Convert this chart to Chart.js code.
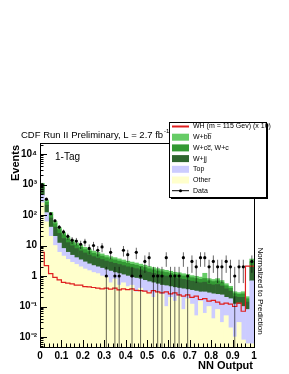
<!DOCTYPE html>
<html lang="en">
<head>
<meta charset="UTF-8">
<title>NN Output 1-Tag</title>
<script src="https://cdn.jsdelivr.net/npm/chart.js"></script>
<style>
    body { margin: 0; background: #fff; }
    #wrap { width: 289px; height: 374px; }
</style>
</head>
<body>
<div id="wrap"><canvas id="nnChart" width="289" height="374"></canvas></div>
<script>
    // bin low edges, NN output (bin width 0.02)
    const binLo = [0.00,0.02,0.04,0.06,0.08,0.10,0.12,0.14,0.16,0.18,
                   0.20,0.22,0.24,0.26,0.28,0.30,0.32,0.34,0.36,0.38,
                   0.40,0.42,0.44,0.46,0.48,0.50,0.52,0.54,0.56,0.58,
                   0.60,0.62,0.64,0.66,0.68,0.70,0.72,0.74,0.76,0.78,
                   0.80,0.82,0.84,0.86,0.88,0.90,0.92,0.94,0.96,0.98];
    const binWidth = 0.02;

    // stacked backgrounds, bottom to top
    const other = [250,60,20,10,6,4.5,3.5,2.8,2.4,2.0,
                   1.7,1.5,1.3,1.2,1.0,0.9,0.6,0.8,0.5,0.6,
                   0.45,0.5,0.3,0.4,0.3,0.3,0.2,0.3,0.25,0.1,
                   0.2,0.15,0.22,0.08,0.18,0.12,0.05,0.15,0.06,0.1,
                   0.04,0.08,0.03,0.05,0.02,0.01,0.03,0.008,0.006,0.006];
    const topQ = [200,60,20,10,6,3.5,2.5,2.0,1.6,1.4,
                  1.2,1.0,0.9,0.8,0.8,0.7,0.85,0.5,0.7,0.5,
                  0.55,0.4,0.55,0.4,0.42,0.35,0.4,0.25,0.25,0.38,
                  0.25,0.27,0.18,0.3,0.18,0.22,0.27,0.15,0.24,0.18,
                  0.22,0.17,0.21,0.15,0.16,0.11,0.09,0.092,0.074,0.69];
    const wjj = [320,90,40,20,13,9,6.5,5.0,4.0,3.3,
                 2.8,2.4,2.1,1.9,1.7,1.5,1.4,1.3,1.2,1.1,
                 1.0,0.95,0.9,0.8,0.75,0.68,0.62,0.58,0.55,0.52,
                 0.48,0.45,0.43,0.4,0.37,0.34,0.32,0.3,0.33,0.26,
                 0.25,0.28,0.23,0.18,0.14,0.09,0.08,0.1,0.06,1.3];
    const wcc = [200,55,24,12,8,5.5,4,3.1,2.4,2.0,
                 1.7,1.5,1.3,1.15,1.0,0.9,0.8,0.8,0.7,0.65,
                 0.6,0.57,0.52,0.48,0.44,0.4,0.38,0.34,0.33,0.31,
                 0.28,0.26,0.26,0.23,0.22,0.2,0.19,0.18,0.2,0.16,
                 0.15,0.16,0.14,0.1,0.08,0.055,0.05,0.06,0.04,0.9];
    const wbb = [130,40,18,9,5.5,4.0,2.8,2.2,1.8,1.5,
                 1.3,1.2,1.0,0.9,0.8,0.7,0.65,0.6,0.55,0.5,
                 0.46,0.44,0.4,0.37,0.34,0.32,0.29,0.27,0.25,0.23,
                 0.22,0.2,0.19,0.18,0.17,0.15,0.15,0.14,0.4,0.12,
                 0.11,0.13,0.1,0.08,0.06,0.04,0.035,0.045,0.03,0.7];

    // WH signal x 10
    const wh10 = [6.5,6.0,2.2,1.2,0.9,0.75,0.62,0.58,0.55,0.5,
                  0.5,0.45,0.44,0.42,0.4,0.38,0.4,0.37,0.4,0.35,
                  0.38,0.36,0.38,0.34,0.33,0.32,0.28,0.33,0.3,0.28,
                  0.3,0.26,0.28,0.24,0.22,0.24,0.2,0.22,0.17,0.18,
                  0.15,0.16,0.14,0.12,0.13,0.12,0.1,0.13,0.07,2.1];

    // observed events
    const dataVals = [1000,330,110,65,40,28,20,15,14,11,
                      13,8,10,7,9,1,6,1,1,7,
                      5,1,6,1,3,4,1,1,1,4,
                      1,1,1,4,1,3,2,4,4,2,
                      3,2,2,3,2,1,2,2,0,3];

    const yTickValues = [1e-2, 1e-1, 1, 10, 100, 1000, 10000];
    const yTickLabels = ['10\u207B\u00B2', '10\u207B\u00B9', '1', '10', '10\u00B2', '10\u00B3', '10\u2074'];
    const xTickLabels = ['0', '0.1', '0.2', '0.3', '0.4', '0.5', '0.6', '0.7', '0.8', '0.9', '1'];

    const Y_MIN = 0.0047, Y_MAX = 23000;

    const binCenters = binLo.map(lo => +(lo + binWidth / 2).toFixed(3));
    const asBars = vals => vals.map((v, i) => ({x: binCenters[i], y: v}));

    // step line: one point per low edge, closed at x = 1
    const whLine = binLo.map((lo, i) => ({x: lo, y: wh10[i]}));
    whLine.push({x: 1, y: wh10[wh10.length - 1]});

    // data markers and poisson error bars (null splits the bars)
    const dataPts = [], errSegs = [];
    dataVals.forEach((n, i) => {
        if (n <= 0) return;
        const e = Math.sqrt(n);
        dataPts.push({x: binCenters[i], y: n});
        errSegs.push({x: binCenters[i], y: Math.max(n - e, Y_MIN)},
                     {x: binCenters[i], y: n + e},
                     {x: binCenters[i], y: null});
    });

    const FONT = 'Liberation Sans, Arial, sans-serif';

    const rootStyle = {
        id: 'rootStyle',
        afterDatasetsDraw(chart) {
            const {ctx, chartArea: a, scales: {x, y}} = chart;
            ctx.save();
            ctx.strokeStyle = '#000';
            ctx.lineWidth = 1;
            ctx.beginPath();
            for (let d = -3; d <= 4; d++) {
                for (let m = 1; m <= 9; m++) {
                    const v = m * Math.pow(10, d);
                    if (v < Y_MIN || v > Y_MAX) continue;
                    const py = Math.round(y.getPixelForValue(v)) + 0.5;
                    ctx.moveTo(a.left, py);
                    ctx.lineTo(a.left + (m === 1 ? 7 : 3.5), py);
                }
            }
            for (let k = 0; k <= 50; k++) {
                const px = Math.round(x.getPixelForValue(k * 0.02)) + 0.5;
                ctx.moveTo(px, a.bottom);
                ctx.lineTo(px, a.bottom - (k % 5 === 0 ? 7 : 3.5));
            }
            ctx.stroke();
            ctx.strokeRect(Math.round(a.left) + 0.5, Math.round(a.top) + 0.5,
                           Math.round(a.right - a.left), Math.round(a.bottom - a.top));
            ctx.restore();
        },
        afterDraw(chart) {
            const {ctx, chartArea: a} = chart;
            const ds = chart.data.datasets;
            ctx.save();
            ctx.fillStyle = '#000';

            // title with superscript
            ctx.textBaseline = 'alphabetic';
            ctx.font = '9.5px ' + FONT;
            const t = 'CDF Run II Preliminary, L = 2.7 fb';
            ctx.fillText(t, 21, 138);
            const tw = ctx.measureText(t).width;
            ctx.font = '6px ' + FONT;
            ctx.fillText('-1', 21 + tw + 1, 133);

            ctx.font = '10px ' + FONT;
            ctx.fillText('1-Tag', 55, 160);

            ctx.font = 'bold 11px ' + FONT;
            ctx.textAlign = 'right';
            ctx.fillText('NN Output', a.right - 1, 369);

            ctx.save();
            ctx.translate(19, a.top + 2);
            ctx.rotate(-Math.PI / 2);
            ctx.fillText('Events', 0, 0);
            ctx.restore();

            ctx.save();
            ctx.font = '8px ' + FONT;
            ctx.textAlign = 'center';
            ctx.textBaseline = 'middle';
            ctx.translate(260, 291);
            ctx.rotate(Math.PI / 2);
            ctx.fillText('Normalized to Prediction', 0, 0);
            ctx.restore();

            // legend box with shadow
            const bx = 169, by = 122, bw = 97, bh = 75;
            ctx.fillStyle = '#000';
            ctx.fillRect(bx + 2, by + 2, bw, bh);
            ctx.fillStyle = '#fff';
            ctx.fillRect(bx, by, bw, bh);
            ctx.strokeStyle = '#000';
            ctx.lineWidth = 1;
            ctx.strokeRect(bx + 0.5, by + 0.5, bw, bh);

            const entries = [
                {ds: ds[2], text: 'WH (m = 115 Gev) (x 10)', kind: 'line'},
                {ds: ds[7], text: 'W+b\u0062\u0305', kind: 'box'},
                {ds: ds[6], text: 'W+cc\u0305, W+c', kind: 'box'},
                {ds: ds[5], text: 'W+jj', kind: 'box'},
                {ds: ds[4], text: 'Top', kind: 'box'},
                {ds: ds[3], text: 'Other', kind: 'box'},
                {ds: ds[0], text: 'Data', kind: 'data'}
            ];
            ctx.textAlign = 'left';
            ctx.textBaseline = 'middle';
            ctx.font = '7px ' + FONT;
            entries.forEach((en, i) => {
                const ry = by + 4.5 + i * 10.7;
                if (en.kind === 'box') {
                    ctx.fillStyle = en.ds.backgroundColor;
                    ctx.fillRect(172, ry - 3.5, 17, 7);
                } else if (en.kind === 'line') {
                    ctx.strokeStyle = en.ds.borderColor;
                    ctx.lineWidth = 2;
                    ctx.beginPath();
                    ctx.moveTo(172, ry);
                    ctx.lineTo(189, ry);
                    ctx.stroke();
                } else {
                    ctx.strokeStyle = '#000';
                    ctx.lineWidth = 1;
                    ctx.beginPath();
                    ctx.moveTo(172, ry);
                    ctx.lineTo(189, ry);
                    ctx.stroke();
                    ctx.fillStyle = '#000';
                    ctx.beginPath();
                    ctx.arc(180.5, ry, 1.5, 0, Math.PI * 2);
                    ctx.fill();
                }
                ctx.fillStyle = '#000';
                ctx.fillText(en.text, 193, ry);
            });
            ctx.restore();
        }
    };

    const bar = (label, vals, color) => ({
        type: 'bar', label, data: asBars(vals), backgroundColor: color,
        borderWidth: 0, stack: 'bg', barPercentage: 1, categoryPercentage: 1
    });

    new Chart(document.getElementById('nnChart'), {
        type: 'bar',
        data: {
            datasets: [
                {type: 'line', label: 'Data', data: dataPts, showLine: false,
                 pointRadius: 1.6, pointBackgroundColor: '#000', pointBorderWidth: 0},
                {type: 'line', label: 'err', data: errSegs, borderColor: 'rgba(0,0,0,0.6)',
                 borderWidth: 1, pointRadius: 0, spanGaps: false},
                {type: 'line', label: 'WH', data: whLine, stepped: 'after', borderColor: '#e01e1e',
                 borderWidth: 1.2, pointRadius: 0, fill: false},
                bar('Other', other, '#ffffcc'),
                bar('Top', topQ, '#ccccff'),
                bar('W+jj', wjj, '#2f662f'),
                bar('W+cc', wcc, '#339933'),
                bar('W+bb', wbb, '#66cc66')
            ]
        },
        options: {
            responsive: false,
            animation: false,
            layout: {padding: {left: 0, right: 35, top: 143, bottom: 0}},
            plugins: {legend: {display: false}, tooltip: {enabled: false}},
            scales: {
                x: {
                    type: 'linear', min: 0, max: 1, offset: false,
                    grid: {display: false, drawTicks: false}, border: {display: false},
                    ticks: {
                        stepSize: 0.1, autoSkip: false, maxRotation: 0, padding: 3, color: '#000',
                        font: {family: FONT, weight: 'bold', size: 10},
                        callback: v => xTickLabels[Math.round(v * 10)]
                    },
                    afterFit: s => { s.height = 27; }
                },
                y: {
                    type: 'logarithmic', min: Y_MIN, max: Y_MAX,
                    grid: {display: false, drawTicks: false}, border: {display: false},
                    afterBuildTicks: s => { s.ticks = yTickValues.map(v => ({value: v})); },
                    ticks: {
                        autoSkip: false, padding: 3, color: '#000',
                        font: {family: FONT, weight: 'bold', size: 10},
                        callback: v => {
                            const k = yTickValues.indexOf(v);
                            return k >= 0 ? yTickLabels[k] : '';
                        }
                    },
                    afterFit: s => { s.width = 40; }
                }
            }
        },
        plugins: [rootStyle]
    });
</script>
</body>
</html>
